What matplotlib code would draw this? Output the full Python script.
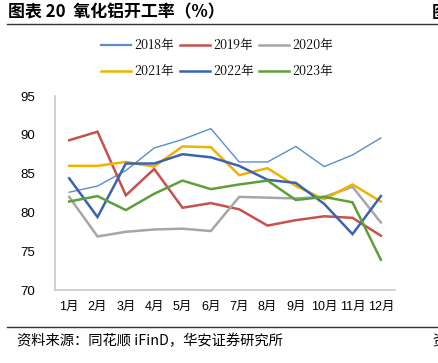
import matplotlib
matplotlib.use("Agg")
import matplotlib.pyplot as plt
from matplotlib.lines import Line2D

plt.rcParams['font.family'] = ['Liberation Sans', 'Noto Sans CJK SC', 'DejaVu Sans']

# data
months = ["1月", "2月", "3月", "4月", "5月", "6月", "7月", "8月", "9月", "10月", "11月", "12月"]
y2018 = [82.6, 83.4, 85.4, 88.3, 89.4, 90.8, 86.5, 86.5, 88.5, 85.9, 87.4, 89.6]
y2019 = [89.3, 90.4, 82.2, 85.6, 80.6, 81.2, 80.4, 78.3, 79.0, 79.5, 79.3, 77.0]
y2020 = [82.0, 76.9, 77.5, 77.8, 77.9, 77.6, 82.0, 81.9, 81.8, 82.0, 83.3, 78.7]
y2021 = [86.0, 86.0, 86.5, 85.9, 88.5, 88.4, 84.8, 85.7, 83.4, 81.7, 83.6, 81.4]
y2022 = [84.4, 79.4, 86.3, 86.3, 87.5, 87.1, 86.0, 84.2, 83.8, 81.1, 77.2, 82.1]
y2023 = [81.4, 82.1, 80.3, 82.4, 84.1, 83.0, 83.6, 84.1, 81.6, 82.0, 81.3, 73.9]

labels = ["2018年", "2019年", "2020年", "2021年", "2022年", "2023年"]
series = [y2018, y2019, y2020, y2021, y2022, y2023]
colors = ["#5b8dcd", "#c8504d", "#a6a6a6", "#efb200", "#3a63b2", "#5d9f3a"]
widths = [1.0, 1.8, 1.8, 1.8, 1.8, 1.8]

fig = plt.figure(figsize=(4.39, 3.63), dpi=100)
ax = fig.add_axes([0.1253, 0.2011, 0.7745, 0.5344])

x = list(range(len(months)))
for ys, c, w, lab in zip(series, colors, widths, labels):
    ax.plot(x, ys, color=c, lw=w, label=lab, solid_joinstyle='miter')

ax.set_xlim(-0.5, 11.5)
ax.set_ylim(70, 95)
ax.set_yticks([70, 75, 80, 85, 90, 95])
ax.set_xticks(x)
ax.set_xticklabels(months, fontsize=9)
ax.tick_params(axis='y', labelsize=9.5, length=0, pad=14)
ax.tick_params(axis='x', length=0, pad=8)
for s in ['top', 'right']:
    ax.spines[s].set_visible(False)
for s in ['left', 'bottom']:
    ax.spines[s].set_color('#c8c8c8')
    ax.spines[s].set_linewidth(1.2)

# legend, two rows of three (matplotlib fills column by column)
handles = [Line2D([], [], color=c, lw=w + 0.6 if w < 1.5 else w) for c, w in zip(colors, widths)]
order = [0, 3, 1, 4, 2, 5]
fig.legend([handles[i] for i in order], [labels[i] for i in order], ncol=3, loc='center',
           bbox_to_anchor=(0.495, 0.839),
           frameon=False, handlelength=2.4, handletextpad=0.25,
           columnspacing=0.45, labelspacing=1.0,
           prop={'family': ['Noto Serif CJK SC', 'Noto Sans CJK SC'], 'size': 9})

# header and footer
fig.text(0.018, 0.965, "图表 20  氧化铝开工率（%）", fontsize=12.2, fontweight='bold',
         va='center', ha='left', family=['Noto Sans CJK SC', 'DejaVu Sans'])
fig.text(0.984, 0.965, "图", fontsize=12.2, fontweight='bold', va='center', ha='left',
         family=['Noto Sans CJK SC'])
fig.add_artist(Line2D([0.016, 1.0], [0.934, 0.934], color='#333333', lw=1.0))
fig.add_artist(Line2D([0.016, 1.0], [0.099, 0.099], color='#333333', lw=1.0))
fig.text(0.039, 0.061, "资料来源：同花顺 iFinD，华安证券研究所", fontsize=10.3, va='center',
         ha='left', family=['Noto Sans CJK SC', 'DejaVu Sans'])
fig.text(0.984, 0.061, "资", fontsize=10.3, va='center', ha='left', family=['Noto Sans CJK SC'])

fig.savefig("out.png", dpi=100)
